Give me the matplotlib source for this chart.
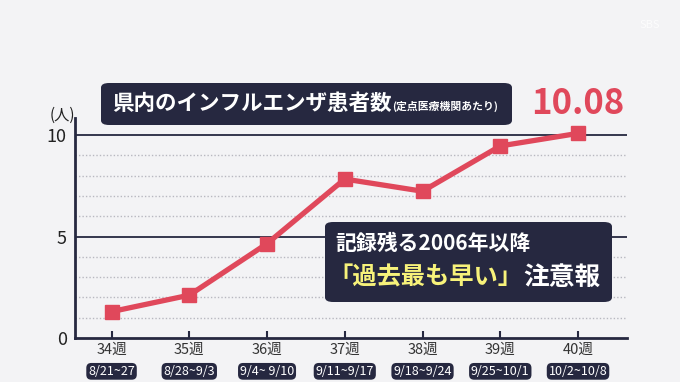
import matplotlib
matplotlib.use('Agg')
import matplotlib.pyplot as plt
from matplotlib.patches import FancyBboxPatch

plt.rcParams['font.family'] = ['Noto Sans CJK JP', 'DejaVu Sans']

# data
weeks = ['34週', '35週', '36週', '37週', '38週', '39週', '40週']
dates = ['8/21~27', '8/28~9/3', '9/4~ 9/10', '9/11~9/17', '9/18~9/24', '9/25~10/1', '10/2~10/8']
patients = [1.30, 2.11, 4.65, 7.83, 7.23, 9.46, 10.08]

navy = '#262840'
red = '#e0485b'
bg = '#f3f3f5'

W, H = 680, 382
fig = plt.figure(figsize=(W / 100, H / 100), dpi=100, facecolor=bg)


def fx(px):
    return px / W


def fy(py):
    return 1 - py / H


# axes: x from 75px to 627px, y from 338px (0) to 118px
ax = fig.add_axes([fx(75), fy(338), (627 - 75) / W, (338 - 118) / H])
ax.set_facecolor(bg)
ax.set_xlim(-0.47, 6.63)
ax.set_ylim(0, 220 / 20.3)

for s in ['top', 'right']:
    ax.spines[s].set_visible(False)
for s in ['left', 'bottom']:
    ax.spines[s].set_color(navy)
    ax.spines[s].set_linewidth(2)

# grid
for v in range(1, 11):
    if v in (5, 10):
        ax.axhline(v, color=navy, lw=1.3, zorder=1)
    else:
        ax.axhline(v, color='#b8b8c0', lw=1, ls=(0, (1, 1.5)), zorder=1)

x = list(range(len(weeks)))
ax.plot(x, patients, color=red, lw=3.8, marker='s', markersize=10.5,
        zorder=3, clip_on=False)

ax.set_yticks([0, 5, 10])
ax.set_yticklabels(['0', '5', '10'], fontsize=13, color='#222')
ax.tick_params(axis='y', length=0, pad=6)
ax.set_xticks(x)
ax.set_xticklabels([])
ax.tick_params(axis='x', direction='in', length=5, width=1.5, color=navy)

ax.text(-0.47, 10.55, '(人)', transform=ax.transData, fontsize=11,
        ha='right', va='bottom', color='#222')

for i in x:
    ax.annotate(weeks[i], (i, 0), xytext=(0, -8.5), textcoords='offset points',
                ha='center', va='center', fontsize=10.5, color='#333')
    ax.annotate(dates[i], (i, 0), xytext=(0, -24), textcoords='offset points',
                ha='center', va='center', fontsize=9, color='white',
                bbox=dict(boxstyle='round,pad=0.15,rounding_size=0.4',
                          fc=navy, ec='none'))

# title box
fig.patches.append(FancyBboxPatch((fx(101), fy(125)), fx(512 - 101), (125 - 83) / H,
                                  boxstyle='round,pad=0,rounding_size=0.012',
                                  transform=fig.transFigure, fc=navy, ec='none'))
fig.text(fx(112), fy(104), '県内のインフルエンザ患者数', fontsize=15.5,
         fontweight='bold', color='white', va='center', ha='left')
fig.text(fx(392), fy(106), '(定点医療機関あたり)', fontsize=7.8,
         fontweight='bold', color='white', va='center', ha='left')

fig.text(fx(578), fy(104), '10.08', fontsize=25, color=red,
         fontweight='bold', va='center', ha='center')

# note box
fig.patches.append(FancyBboxPatch((fx(325), fy(302)), fx(612 - 325), (302 - 222) / H,
                                  boxstyle='round,pad=0,rounding_size=0.012',
                                  transform=fig.transFigure, fc=navy, ec='none'))
fig.text(fx(335), fy(243), '記録残る2006年以降', fontsize=15,
         fontweight='bold', color='white', va='center', ha='left')
fig.text(fx(328), fy(277), '「過去最も早い」', fontsize=17.5,
         fontweight='bold', color='#f7f27a', va='center', ha='left')
fig.text(fx(523), fy(277), '注意報', fontsize=18.5,
         fontweight='bold', color='white', va='center', ha='left')

fig.text(fx(650), fy(25), 'SBS', fontsize=8, color='white', alpha=0.8,
         va='center', ha='center')

fig.savefig('out.png', dpi=100, facecolor=bg)
